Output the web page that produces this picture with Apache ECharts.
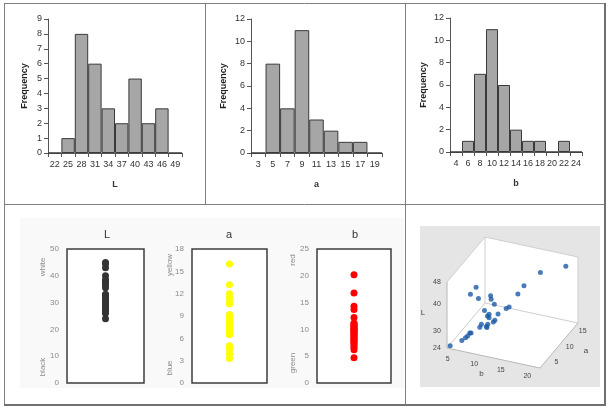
<!DOCTYPE html>
<html><head><meta charset="utf-8">
<script src="https://cdn.jsdelivr.net/npm/echarts@6/dist/echarts.min.js"></script>
<style>html,body{margin:0;padding:0;background:#fff}#c{width:615px;height:412px}</style>
</head><body><div id="c"></div>
<script>
// ---- Histogram data (bin labels and frequencies) ----
const histL_bins = ['22','25','28','31','34','37','40','43','46','49'];
const histL_freq = [0,1,8,6,3,2,5,2,3,0];
const histA_bins = ['3','5','7','9','11','13','15','17','19'];
const histA_freq = [0,8,4,11,3,2,1,1,0];
const histB_bins = ['4','6','8','10','12','14','16','18','20','22','24'];
const histB_freq = [0,1,7,11,6,2,1,1,0,1,0];

// ---- Sample values (one entry per sample) ----
const sampleL = [45,44.5,40,38,33,31,32,30.5,30,35.5,37.5,36.5,31.5,33,32.5,38.5,32,38,43,30.5,27,27,29.5,28.5,28,28,27,26.5,26,24];
const sampleA = [16.0,13.2,12.0,10.9,10.6,11.5,8.8,8.0,7.8,8.6,9.2,9.0,7.6,7.4,7.2,7.0,8.9,8.0,6.5,6.5,8.4,8.2,6.9,6.7,5.0,4.9,4.7,4.5,3.9,3.3];
const sampleB = [20.2,16.8,14.3,13.7,12.2,11.2,11.0,10.8,10.6,10.4,9.4,9.6,9.9,10.0,9.8,8.2,8.4,6.2,8.0,10.2,9.0,9.2,8.8,8.6,7.8,7.6,7.3,7.0,6.6,4.7];

// ---- Tick labels ----
const tick3D_L = [24,30,40,48];
const tick3D_B = [5,10,15,20];
const tick3D_A = [5,10,15];

const FONT = 'Liberation Sans';
const chart = echarts.init(document.getElementById('c'), null, {renderer:'canvas'});

function histGrid(left, top, width){ return {left, top, width, height:134, containLabel:false}; }
function histX(idx, bins, name){
  return {gridIndex:idx, type:'category', data:bins, boundaryGap:true,
    axisLine:{lineStyle:{color:'#555',width:1}}, axisTick:{show:true,length:4,interval:0,lineStyle:{color:'#555'}},
    axisLabel:{color:'#333',fontSize:9,fontFamily:FONT,margin:7,interval:0},
    name, nameLocation:'middle', nameGap:27, nameTextStyle:{color:'#333',fontSize:9,fontWeight:'bold',fontFamily:FONT}};
}
function histY(idx, max, interval, gap){
  return {gridIndex:idx, type:'value', min:0, max, interval,
    axisLine:{show:true,lineStyle:{color:'#555',width:1}}, axisTick:{show:true,length:4,lineStyle:{color:'#555'}},
    splitLine:{show:false}, axisLabel:{color:'#333',fontSize:9,fontFamily:FONT,margin:6},
    name:'Frequency', nameLocation:'middle', nameGap:gap, nameRotate:90,
    nameTextStyle:{color:'#222',fontSize:9,fontWeight:'bold',fontFamily:FONT}};
}
function histSeries(idx, data){
  return {type:'bar', xAxisIndex:idx, yAxisIndex:idx, data, barWidth:'100%', barCategoryGap:'0%',
    itemStyle:{color:'#a6a6a6', borderColor:'#3a3a3a', borderWidth:1}, silent:true};
}

// strip plots
function stripGrid(left, width){ return {left, top:249, width, height:134, show:true, borderColor:'#3c3c3c', borderWidth:1.5, backgroundColor:'#fff'}; }
function stripX(idx){ return {gridIndex:idx, type:'value', min:-1, max:1, show:false}; }
function stripY(idx, max, interval){
  return {gridIndex:idx, type:'value', min:0, max, interval, axisLine:{show:false}, axisTick:{show:false}, splitLine:{show:false},
    axisLabel:{color:'#8a8a8a', fontSize:8, fontFamily:FONT, margin:8}};
}
function stripSeries(idx, vals, color){
  return {type:'scatter', xAxisIndex:idx, yAxisIndex:idx, symbolSize:7, data: vals.map(v=>[0,v]),
    itemStyle:{color, opacity:1}, silent:true};
}

// 3D projection (orthographic view, in panel coordinates)
const rngB = [4.5,22], rngA = [2.5,17], rngL = [24,48];
const origin3 = [42,148];
const vecB = [93,20], vecA = [38,-45], vecL = [0,-66];
function project(bv, av, lv){
  const tb=(bv-rngB[0])/(rngB[1]-rngB[0]), ta=(av-rngA[0])/(rngA[1]-rngA[0]), tl=(lv-rngL[0])/(rngL[1]-rngL[0]);
  return [origin3[0]+tb*vecB[0]+ta*vecA[0]+tl*vecL[0], origin3[1]+tb*vecB[1]+ta*vecA[1]+tl*vecL[1]];
}
const scatter3D = sampleB.map((bv,i)=>project(bv, sampleA[i], sampleL[i]));

function frameRender(params, api){
  const P = (bv,av,lv)=>api.coord(project(bv,av,lv));
  const b0=rngB[0], b1=rngB[1], a0=rngA[0], a1=rngA[1], l0=rngL[0], l1=rngL[1];
  const wall = pts => ({type:'polygon', shape:{points:pts}, style:{fill:'#ffffff', stroke:null}});
  const line = (p,q,c) => ({type:'line', shape:{x1:p[0],y1:p[1],x2:q[0],y2:q[1]}, style:{stroke:c||'#cfcfcf', lineWidth:1}});
  const txt = (p,dx,dy,s,align,size) => ({type:'text', x:p[0]+dx, y:p[1]+dy, style:{text:s, fill:'#444', fontSize:size||7, fontFamily:FONT, align:align||'center', verticalAlign:'middle'}});
  const ch = [];
  ch.push(wall([P(b0,a1,l0),P(b1,a1,l0),P(b1,a1,l1),P(b0,a1,l1)]));
  ch.push(wall([P(b0,a0,l0),P(b0,a1,l0),P(b0,a1,l1),P(b0,a0,l1)]));
  ch.push(wall([P(b0,a0,l0),P(b1,a0,l0),P(b1,a1,l0),P(b0,a1,l0)]));
  ch.push(line(P(b0,a1,l0),P(b0,a1,l1)));
  ch.push(line(P(b0,a1,l1),P(b1,a1,l1)));
  ch.push(line(P(b1,a1,l0),P(b1,a1,l1)));
  ch.push(line(P(b0,a0,l1),P(b0,a1,l1)));
  ch.push(line(P(b0,a1,l0),P(b1,a1,l0)));
  ch.push(line(P(b0,a0,l0),P(b0,a1,l0)));
  ch.push(line(P(b0,a0,l0),P(b0,a0,l1),'#b8b8b8'));
  ch.push(line(P(b0,a0,l0),P(b1,a0,l0),'#b8b8b8'));
  ch.push(line(P(b1,a0,l0),P(b1,a1,l0),'#b8b8b8'));
  tick3D_L.forEach(t=>ch.push(txt(P(b0,a0,t),-10,0,String(t),'center')));
  tick3D_B.forEach(t=>ch.push(txt(P(t,a0,l0),-2,10,String(t),'center')));
  tick3D_A.forEach(t=>ch.push(txt(P(b1,t,l0),10,2,String(t),'center')));
  ch.push(txt(P(b0,a0,(l0+l1)/2),-24,-2,'L','center',8));
  ch.push(txt(P((b0+b1)/2,a0,l0),-12,16,'b','center',8));
  ch.push(txt(P(b1,(a0+a1)/2,l0),27,5,'a','center',8));
  return {type:'group', children:ch};
}

const borderCol = '#808080';
const ln = (x1,y1,x2,y2,w,c) => ({type:'line', shape:{x1,y1,x2,y2}, style:{stroke:c||borderCol, lineWidth:w||1}, z:100, silent:true});
const label = (x,y,s,rot,size,color) => ({type:'text', x, y, rotation:rot||0, style:{text:s, fill:color||'#8a8a8a', fontSize:size||8, fontFamily:FONT, align:'center', verticalAlign:'middle'}, z:50, silent:true});

const option = {
  backgroundColor:'#ffffff',
  animation:false,
  grid:[histGrid(48,19,134), histGrid(251,19,131), histGrid(450,18,132),
        stripGrid(67,77), stripGrid(192,75), stripGrid(317,74),
        {left:405, top:200, width:200, height:200, show:false}],
  xAxis:[histX(0,histL_bins,'L'), histX(1,histA_bins,'a'), histX(2,histB_bins,'b'),
         stripX(3), stripX(4), stripX(5),
         {gridIndex:6, type:'value', min:0, max:200, show:false}],
  yAxis:[histY(0,9,1,19), histY(1,12,2,23), histY(2,12,2,22),
         stripY(3,50,10), stripY(4,18,3), stripY(5,25,5),
         {gridIndex:6, type:'value', min:0, max:200, inverse:true, show:false}],
  series:[histSeries(0,histL_freq), histSeries(1,histA_freq), histSeries(2,histB_freq),
          stripSeries(3,sampleL,'#333333'), stripSeries(4,sampleA,'#ffff00'), stripSeries(5,sampleB,'#ff0000'),
          {type:'custom', xAxisIndex:6, yAxisIndex:6, data:[[0,0]], renderItem:frameRender, silent:true, z:1, clip:false},
          {type:'scatter', xAxisIndex:6, yAxisIndex:6, data:scatter3D, symbolSize:5, itemStyle:{color:'#1b5aa6'}, silent:true, z:3}],
  graphic:[
    {type:'rect', shape:{x:20,y:218,width:384,height:170}, style:{fill:'#f9f9f9'}, z:-10, silent:true},
    {type:'rect', shape:{x:420,y:226,width:180,height:161}, style:{fill:'#e5e5e5'}, z:-10, silent:true},
    ln(4,3.5,605,3.5), ln(4.5,3,4.5,405), ln(605,3,605,406,2,'#707070'), ln(4,405,606,405,2,'#707070'),
    ln(205.5,3,205.5,204), ln(405.5,3,405.5,405), ln(4,204.5,605,204.5),
    label(107,235,'L',0,11,'#333'), label(229,235,'a',0,11,'#333'), label(355,235,'b',0,11,'#333'),
    label(43,267,'white',Math.PI/2), label(43,367,'black',Math.PI/2),
    label(170,265,'yellow',Math.PI/2), label(170,368,'blue',Math.PI/2),
    label(293,260,'red',Math.PI/2), label(293,363,'green',Math.PI/2)
  ]
};
chart.setOption(option);
</script></body></html>
